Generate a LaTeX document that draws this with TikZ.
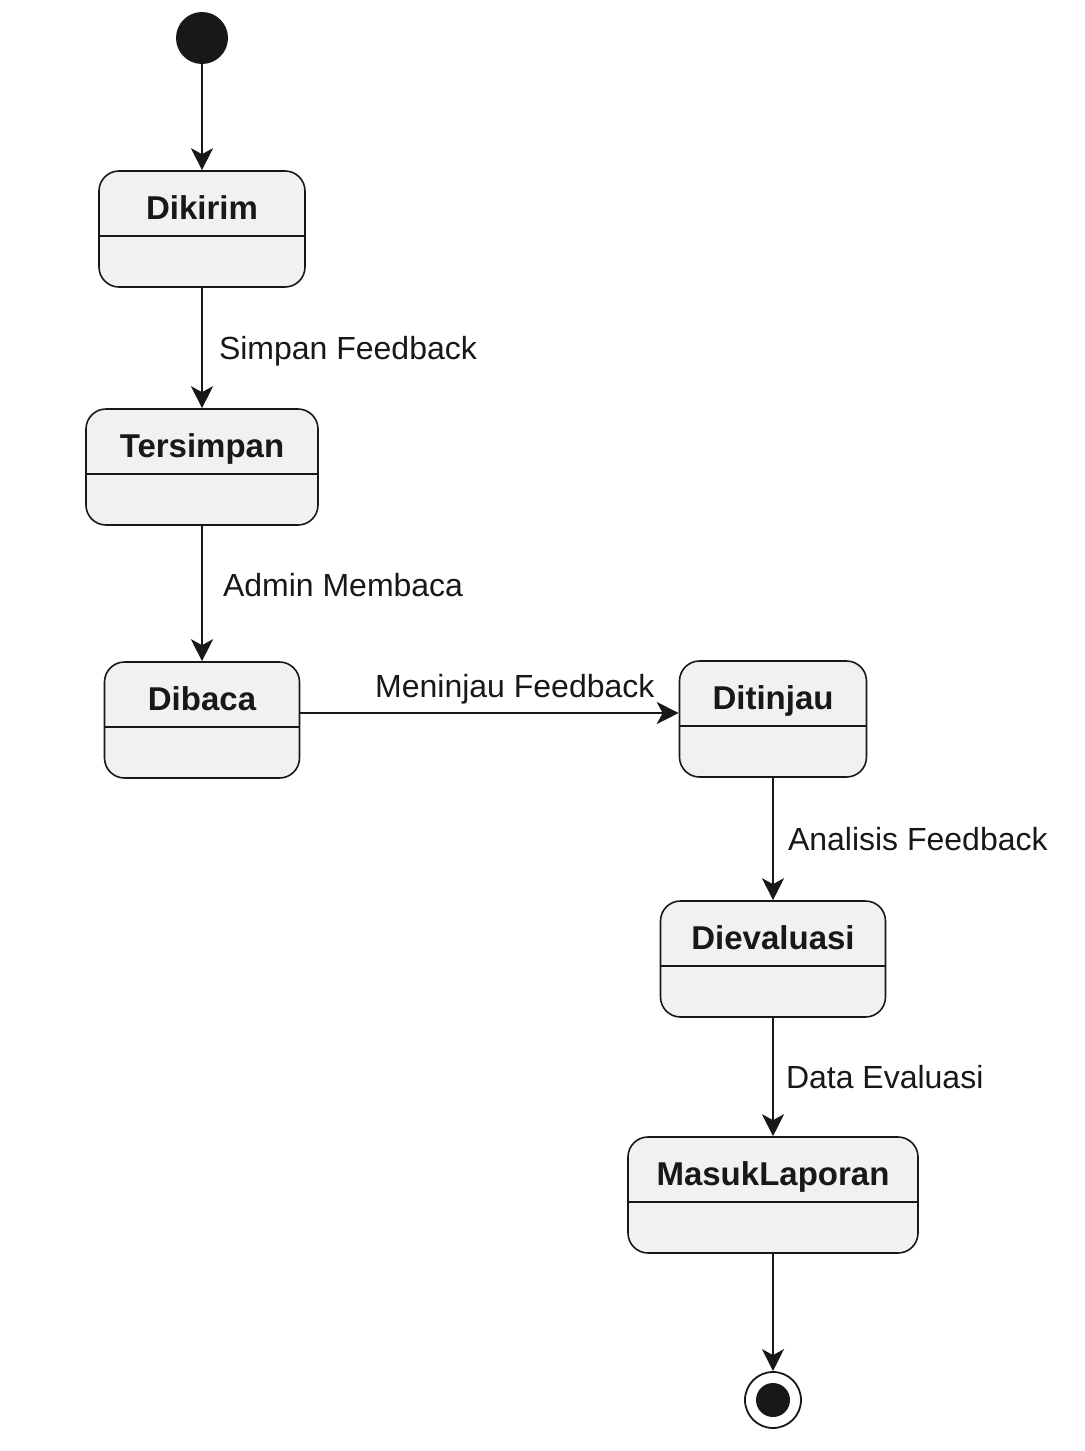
\documentclass[tikz,border=0pt]{standalone}
\usepackage{fontspec}
\setmainfont{Liberation Sans}
\usetikzlibrary{arrows.meta,positioning,calc}
\definecolor{statefill}{HTML}{F1F1F1}
\definecolor{ink}{HTML}{181818}

\begin{document}
\begin{tikzpicture}[x=0.5pt, y=-0.5pt,
  state/.style={draw=ink, fill=statefill, rounded corners=10pt, line width=0.8pt,
    font=\fontsize{16.5}{19}\selectfont\bfseries, text=ink, inner sep=0pt,
    text height=24pt, text depth=34pt, align=center},
  lbl/.style={font=\fontsize{16}{19}\selectfont, text=ink, anchor=west, inner sep=0pt},
  div/.style={draw=ink, line width=0.8pt},
  arr/.style={-{Stealth[length=11pt, width=11pt, inset=3pt]}, draw=ink, line width=1pt}]
  \useasboundingbox (0,0) rectangle (1084,1451);
  % states
  \node[circle, fill=ink, minimum size=26pt, inner sep=0pt] (start) at (202,38) {};
  \node[state, minimum width=103pt]   (dikirim)    at (202,229)   {Dikirim};
  \node[state, minimum width=116pt]   (tersimpan)  at (202,467)   {Tersimpan};
  \node[state, minimum width=97.5pt]  (dibaca)     at (202,720)   {Dibaca};
  \node[state, minimum width=93.5pt]  (ditinjau)   at (773,719)   {Ditinjau};
  \node[state, minimum width=112.5pt] (dievaluasi) at (773,959)   {Dievaluasi};
  \node[state, minimum width=145pt]   (masuk)      at (773,1195)  {MasukLaporan};
  \node[circle, draw=ink, fill=white, line width=0.9pt, minimum size=28pt, inner sep=0pt] (end) at (773,1400) {};
  \node[circle, fill=ink, minimum size=17pt, inner sep=0pt] (endDot) at (end) {};
  \foreach \s in {dikirim,tersimpan,dibaca,ditinjau,dievaluasi,masuk}
    {\draw[div] ([yshift=-33pt]\s.north west) -- ([yshift=-33pt]\s.north east);}
  % transitions
  \draw[arr] (start) -- (dikirim);
  \draw[arr] (dikirim) -- node[lbl, xshift=8pt, yshift=-1.5pt] {Simpan Feedback} (tersimpan);
  \draw[arr] (tersimpan) -- node[lbl, xshift=10pt, yshift=4pt] {Admin Membaca} (dibaca);
  \draw[arr] ([yshift=3.5pt]dibaca.east) -- node[lbl, anchor=south, pos=0.567, yshift=4pt] {Meninjau Feedback} ([yshift=3pt]ditinjau.west);
  \draw[arr] (ditinjau) -- node[lbl, xshift=7pt] {Analisis Feedback} (dievaluasi);
  \draw[arr] (dievaluasi) -- node[lbl, xshift=6pt] {Data Evaluasi} (masuk);
  \draw[arr] (masuk) -- (end);
\end{tikzpicture}
\end{document}
